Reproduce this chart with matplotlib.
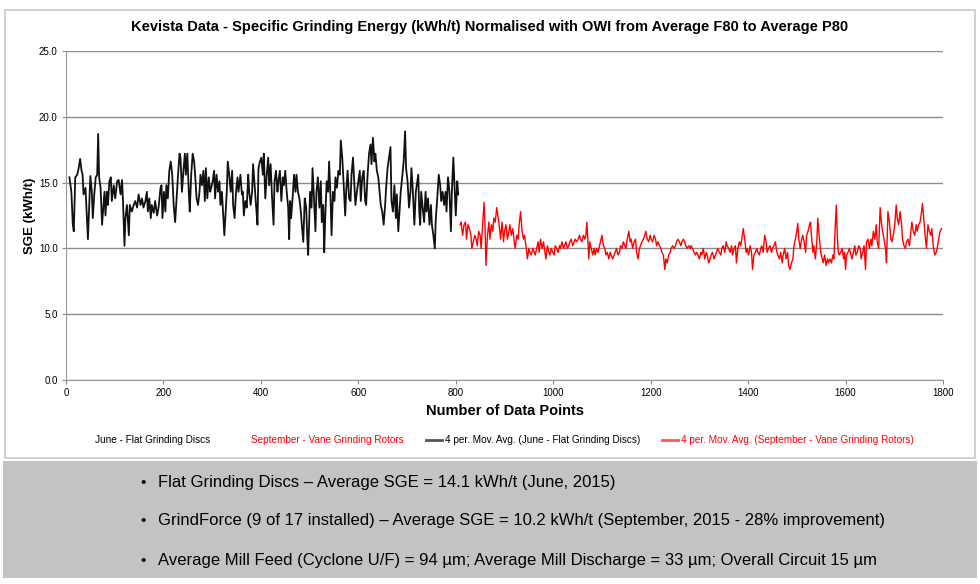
import matplotlib
matplotlib.use("Agg")
import matplotlib.pyplot as plt
from matplotlib.lines import Line2D
from matplotlib.patches import Rectangle

plt.rcParams['font.family'] = ['Liberation Sans', 'DejaVu Sans']

# ---- data (4 per. moving average lines) ----
# june: flat grinding discs, x = data point number
june_idx = [7, 11, 14, 16, 19, 23, 26, 29, 32, 34, 36, 40, 42, 45, 48, 50, 53, 55, 58, 61,
            64, 66, 68, 71, 74, 77, 79, 81, 84, 86, 89, 92, 94, 98, 101, 105, 108, 112, 115, 117,
            120, 122, 125, 129, 131, 135, 139, 142, 146, 149, 153, 156, 159, 163, 166, 168, 171, 174, 176, 180,
            183, 187, 190, 194, 196, 198, 201, 204, 206, 209, 212, 215, 218, 221, 224, 227, 230, 233, 235, 238,
            241, 244, 246, 249, 252, 254, 257, 260, 263, 265, 268, 271, 274, 276, 279, 282, 285, 287, 290, 293,
            296, 298, 301, 304, 306, 309, 312, 315, 317, 320, 323, 325, 327, 330, 332, 335, 338, 341, 343, 346,
            349, 352, 354, 358, 361,
            363, 365, 368, 371, 374, 376, 379, 382, 384, 387, 390, 393, 395, 398, 401, 404, 406, 409, 412, 415,
            417, 420, 423, 426, 428, 431, 434, 436, 439, 442, 445, 447, 450, 453, 456, 458, 460, 462, 465, 468,
            471, 473, 476, 479, 482, 484, 487, 490, 493, 495, 497, 499, 501, 504, 506, 509, 512, 514, 517, 520,
            523, 525, 528, 530, 532, 535, 538, 540, 543, 545, 548, 551, 553, 556, 559, 562, 564, 567, 570, 573,
            575, 578, 581, 584, 586, 589, 592, 594, 597, 600, 603, 605, 608, 611, 614, 616, 619, 622, 625, 627,
            630, 633, 635, 638, 641, 644, 646, 649, 652, 655, 657, 660, 663, 666, 668, 671, 674, 677, 679, 682,
            685, 687, 690, 693, 696, 698, 701, 704, 707, 709, 712, 715, 718, 720,
            723, 725, 727, 729, 732, 735, 738, 740, 743, 746, 749, 751, 754, 757, 759, 762, 765, 768, 770, 773,
            776, 779, 781, 784, 787, 790, 792, 795, 798, 800, 803, 805]
june_sge = [15.4, 14.3, 11.8, 11.3, 15.4, 15.6, 16.1, 16.8, 15.9, 15.6, 14.1, 14.6, 13.1, 10.7, 13.6, 15.5, 14.3, 12.3, 14.1, 15.4,
            15.6, 18.7, 15.4, 14.6, 11.8, 13.3, 14.3, 12.5, 14.3, 13.3, 15.1, 15.4, 13.6, 14.8, 13.8, 15.1, 15.2, 14.1, 15.2, 13.6,
            10.2, 12.3, 13.3, 11.0, 13.3, 12.8, 13.3, 13.6, 13.1, 14.1, 13.3, 13.8, 13.1, 13.6, 14.3, 12.8, 13.8, 12.3, 13.3, 12.7,
            13.6, 12.5, 13.1, 14.6, 14.8, 12.3, 14.3, 12.8, 14.8, 13.8, 15.9, 16.6, 15.6, 13.3, 12.0, 13.8, 15.6, 17.2, 16.9, 14.3,
            15.9, 17.2, 15.6, 17.2, 14.3, 12.8, 15.6, 17.2, 16.6, 15.6, 13.8, 13.3, 14.3, 15.6, 14.8, 15.9, 13.6, 16.1, 13.8, 15.4,
            14.3, 14.6, 15.1, 15.9, 13.8, 15.6, 14.3, 15.1, 13.3, 14.3, 12.3, 11.0, 12.3, 14.3, 16.6, 15.6, 14.3, 15.9, 13.3, 12.3,
            14.3, 15.4, 14.3, 15.6, 14.1,
            14.3, 12.5, 13.6, 13.1, 15.6, 14.3, 13.3, 14.3, 16.4, 14.8, 13.3, 11.8, 16.1, 16.6, 16.9, 15.6, 17.2, 13.8, 15.6, 16.9,
            14.8, 16.4, 13.8, 11.8, 15.1, 15.9, 14.3, 15.1, 15.9, 13.6, 15.4, 14.8, 15.9, 14.3, 13.1, 10.7, 13.6, 12.3, 13.8, 15.6,
            14.3, 15.6, 14.3, 13.8, 12.8, 11.8, 10.5, 13.8, 13.1, 11.0, 9.5, 11.8, 14.3, 13.1, 16.1, 13.8, 11.3, 14.3, 15.4, 13.1,
            15.1, 12.0, 13.3, 9.7, 12.3, 15.1, 14.3, 16.6, 13.8, 11.0, 14.3, 13.6, 15.4, 14.6, 15.9, 15.6, 18.2, 16.9, 14.8, 12.5,
            14.3, 15.9, 13.8, 13.6, 15.6, 16.9, 14.8, 13.3, 14.3, 15.1, 15.9, 13.6, 15.4, 15.9, 13.6, 13.3, 15.6, 17.2, 17.9, 16.4,
            18.4, 16.6, 17.2, 15.9, 15.4, 14.1, 13.3, 12.8, 11.8, 13.3, 14.6, 16.1, 16.9, 17.7, 13.6, 12.8, 14.8, 12.3, 14.1, 11.3,
            13.1, 14.3, 15.4, 16.6, 18.9, 16.1, 15.1, 13.1, 14.3, 16.1, 14.3, 11.8, 14.3, 14.8,
            15.6, 12.8, 11.8, 14.3, 13.1, 12.0, 14.3, 12.8, 13.8, 11.8, 13.3, 11.8, 11.0, 10.0, 12.3, 13.8, 15.6, 14.8, 13.6, 14.3,
            13.3, 14.3, 12.8, 15.4, 14.3, 11.3, 14.3, 16.9, 14.3, 12.5, 15.1, 14.1]

# september: vane grinding rotors
sept_idx = [809, 811, 814, 817, 820, 822, 825, 828, 831, 833, 836, 839, 842, 844, 847, 850, 852, 855, 858, 860,
            862, 865, 868, 870, 873, 876, 878, 881, 884, 887, 889, 892, 895, 898, 900, 903, 906, 909, 911, 914,
            917, 920, 922, 925, 928, 930, 933, 936, 939, 941, 944, 947, 950, 952, 955, 958, 961, 963, 966, 969,
            971, 974, 977, 980, 982, 985, 988, 991, 993, 996, 999, 1002, 1004, 1007, 1010, 1013, 1015, 1018, 1021, 1023,
            1026, 1029, 1032, 1034, 1037, 1040, 1043, 1045, 1048, 1051, 1054, 1056, 1059, 1062, 1065, 1067, 1069, 1071, 1073, 1075,
            1078, 1081, 1084,
            1086, 1089, 1092, 1095, 1097, 1100, 1103, 1106, 1108, 1111, 1114, 1117, 1119, 1122, 1125, 1127, 1130, 1133, 1136, 1138,
            1141, 1144, 1147, 1149, 1152, 1155, 1158, 1160, 1163, 1166, 1169, 1171, 1174, 1177, 1179, 1182, 1185, 1188, 1190, 1193,
            1196, 1199, 1201, 1204, 1207, 1210, 1212, 1215, 1218, 1221, 1223, 1226, 1229, 1231, 1234, 1237, 1240, 1242, 1245, 1248,
            1251, 1253, 1256, 1259, 1262, 1264, 1267, 1270, 1272, 1275, 1278, 1281, 1283, 1286, 1289, 1292, 1294, 1297, 1300, 1303,
            1305, 1308, 1311, 1314, 1316, 1319, 1322, 1324, 1327, 1330, 1333, 1335, 1338, 1341, 1344, 1346, 1349, 1352, 1355, 1357,
            1360, 1363, 1366, 1368, 1371, 1374, 1376, 1379, 1382, 1385, 1387, 1390, 1393, 1396, 1398, 1401, 1404, 1407, 1409, 1412,
            1415, 1418, 1420, 1423, 1426, 1428, 1431, 1434, 1437, 1439, 1442, 1445,
            1448, 1450, 1453, 1456, 1459, 1461, 1464, 1467, 1470, 1472, 1475, 1478, 1481, 1483, 1486, 1489, 1492, 1494, 1497, 1500,
            1502, 1504, 1507, 1509, 1512, 1515, 1518, 1520, 1523, 1526, 1528, 1530, 1533, 1535, 1538, 1541, 1543, 1545, 1547, 1549,
            1552, 1554, 1557, 1560, 1563, 1565, 1568, 1571, 1574, 1576, 1579, 1581, 1583, 1585, 1587, 1590, 1593, 1596, 1598, 1600,
            1602, 1605, 1608, 1611, 1613, 1616, 1619, 1621, 1624, 1627, 1630, 1632, 1635, 1638, 1641, 1643, 1646, 1649, 1652, 1654,
            1657, 1660, 1663, 1665, 1668, 1671, 1674, 1676, 1679, 1682, 1684, 1687, 1690, 1693, 1695, 1698, 1701, 1704, 1706, 1709,
            1712, 1715, 1717, 1720, 1723, 1725, 1728, 1731, 1734, 1736, 1739, 1742, 1745, 1747, 1750, 1753, 1756, 1758, 1761, 1764,
            1766, 1769, 1772, 1775, 1777, 1780, 1783, 1786, 1788, 1791, 1794, 1797]
sept_sge = [11.8, 12.0, 11.0, 11.8, 12.0, 10.7, 11.8, 11.5, 11.0, 10.0, 10.5, 11.0, 10.7, 10.2, 11.3, 11.0, 10.0, 11.8, 13.5, 11.8,
            8.7, 11.0, 12.0, 10.7, 11.8, 11.3, 12.3, 12.0, 13.1, 12.3, 11.8, 10.7, 12.0, 10.5, 11.3, 11.8, 10.7, 11.3, 11.8, 11.0,
            11.5, 10.5, 10.0, 11.0, 10.7, 11.8, 12.8, 11.3, 10.7, 11.0, 10.2, 9.2, 10.0, 9.7, 9.5, 10.0, 9.7, 9.5, 10.0, 10.5,
            9.7, 10.7, 10.0, 10.5, 10.0, 9.2, 10.2, 9.7, 9.5, 10.0, 9.7, 9.5, 10.2, 10.0, 9.7, 10.2, 10.0, 10.5, 10.0, 10.2,
            10.5, 10.0, 10.2, 10.5, 10.7, 10.2, 10.5, 10.7, 10.5, 10.7, 11.0, 10.7, 10.5, 11.0, 10.7, 11.0, 12.0, 10.7, 9.2, 10.5,
            10.0, 9.5, 10.0,
            9.5, 10.0, 9.7, 10.2, 10.5, 11.0, 10.2, 10.0, 9.5, 9.7, 9.2, 9.7, 9.5, 9.2, 9.5, 9.7, 10.0, 9.5, 9.7, 10.2,
            10.0, 10.5, 10.2, 10.0, 10.7, 11.3, 10.5, 10.7, 10.0, 10.5, 10.7, 9.7, 9.2, 10.0, 10.2, 10.5, 10.7, 11.0, 11.3, 10.7,
            10.5, 11.0, 10.7, 10.5, 11.0, 10.7, 10.2, 10.5, 10.2, 10.0, 9.7, 9.5, 8.4, 9.2, 8.9, 9.5, 9.7, 10.0, 10.2, 10.0,
            10.2, 10.5, 10.7, 10.5, 10.2, 10.5, 10.7, 10.5, 10.2, 10.0, 10.2, 10.0, 10.2, 10.0, 9.7, 9.5, 9.7, 9.5, 9.2, 9.7,
            9.5, 10.0, 9.2, 9.7, 9.5, 8.9, 9.2, 9.5, 9.7, 9.2, 9.5, 9.7, 10.0, 9.7, 9.5, 10.0, 10.2, 9.7, 10.5, 10.2,
            10.0, 9.7, 10.2, 9.5, 10.0, 10.2, 8.9, 10.0, 10.5, 10.2, 10.7, 11.5, 10.7, 9.7, 10.0, 9.5, 10.2, 9.7, 8.4, 9.5,
            9.7, 10.0, 9.7, 9.5, 10.0, 10.2, 9.7, 11.0, 10.5, 9.7, 10.0, 10.2,
            9.7, 10.0, 10.2, 10.5, 9.7, 9.5, 9.2, 9.7, 8.9, 9.5, 10.0, 9.2, 9.7, 8.7, 8.4, 8.9, 9.2, 10.2, 10.7, 11.3,
            11.9, 10.7, 10.0, 10.5, 11.0, 10.5, 9.7, 11.0, 11.3, 11.8, 12.0, 11.0, 9.7, 10.2, 9.2, 10.5, 12.3, 11.3, 10.5, 9.7,
            9.2, 8.9, 9.5, 8.7, 9.2, 8.9, 9.2, 8.9, 9.5, 9.2, 11.8, 13.3, 11.0, 9.7, 9.5, 9.7, 10.0, 9.2, 9.7, 8.4,
            9.5, 9.7, 10.0, 9.5, 9.2, 9.7, 10.2, 9.5, 9.7, 10.2, 10.0, 9.2, 9.7, 10.2, 8.4, 10.5, 10.7, 10.0, 10.7, 10.2,
            11.3, 10.7, 11.8, 10.5, 10.0, 13.1, 11.8, 11.3, 10.7, 10.0, 8.9, 12.8, 12.0, 10.7, 10.5, 11.0, 11.8, 13.3, 12.3, 11.8,
            12.8, 11.8, 10.7, 10.2, 10.0, 10.5, 10.7, 10.2, 11.3, 12.0, 11.3, 11.0, 11.8, 11.3, 11.8, 12.0, 12.8, 13.4, 12.0, 10.7,
            10.0, 11.8, 11.3, 11.0, 11.5, 10.2, 9.5, 9.7, 10.0, 10.7, 11.3, 11.5]

y_ticks = [0, 5, 10, 15, 20, 25]
x_ticks = [0, 200, 400, 600, 800, 1000, 1200, 1400, 1600, 1800]

bullets = [
    "Flat Grinding Discs \u2013 Average SGE = 14.1 kWh/t (June, 2015)",
    "GrindForce (9 of 17 installed) \u2013 Average SGE = 10.2 kWh/t (September, 2015 - 28% improvement)",
    "Average Mill Feed (Cyclone U/F) = 94 \u00b5m; Average Mill Discharge = 33 \u00b5m; Overall Circuit 15 \u00b5m",
]

W, H = 980, 584
fig = plt.figure(figsize=(W / 100, H / 100), dpi=100)

# chart frame + grey text panel underneath (kept behind the axes)
fig.add_artist(Rectangle((5 / W, 1 - 458 / H), 970 / W, 448 / H, transform=fig.transFigure,
                         facecolor='white', edgecolor='#c8c8c8', lw=1.2, zorder=-2))
fig.add_artist(Rectangle((3 / W, 1 - 578 / H), 974 / W, 117 / H, transform=fig.transFigure,
                         facecolor='#c3c3c3', edgecolor='none', zorder=-2))

ax = fig.add_axes([66 / W, 1 - 380 / H, (943 - 66) / W, (380 - 51) / H])
ax.patch.set_alpha(0)
ax.plot(june_idx, june_sge, color='#111111', lw=1.3)
ax.plot(sept_idx, sept_sge, color='#ff0000', lw=1.0)

ax.set_xlim(0, 1800)
ax.set_ylim(0, 25)
ax.set_xticks(x_ticks)
ax.set_yticks(y_ticks)
ax.set_yticklabels([f"{v:.1f}" for v in y_ticks])
ax.tick_params(labelsize=7, length=3, color='#888888', pad=3)
ax.grid(axis='y', color='#8c8c8c', lw=1)
ax.set_axisbelow(True)
for s in ['top', 'right']:
    ax.spines[s].set_visible(False)
for s in ['left', 'bottom']:
    ax.spines[s].set_color('#999999')

ax.set_xlabel("Number of Data Points", fontsize=10.5, fontweight='bold', labelpad=4)
ax.set_ylabel("SGE (kWh/t)", fontsize=9.5, fontweight='bold', va='center')
ax.yaxis.set_label_coords(-0.041, 0.5)

fig.text(490 / W, 1 - 27 / H,
         "Kevista Data - Specific Grinding Energy (kWh/t) Normalised with OWI from Average F80 to Average P80",
         ha='center', va='center', fontsize=10.5, fontweight='bold')

# legend: raw series have no visible line, moving averages do
handles = [Line2D([], [], color='none'), Line2D([], [], color='none'),
           Line2D([], [], color='#555555', lw=2), Line2D([], [], color='#ff5555', lw=2)]
labels = ["June - Flat Grinding Discs", "September - Vane Grinding Rotors",
          "4 per. Mov. Avg. (June - Flat Grinding Discs)",
          "4 per. Mov. Avg. (September - Vane Grinding Rotors)"]
leg = fig.legend(handles, labels, loc='center', bbox_to_anchor=(495 / W, 1 - 440 / H), ncol=4,
                 frameon=False, fontsize=7.2, handlelength=1.6, handletextpad=0.3, columnspacing=2.2,
                 labelcolor=['black', 'red', 'black', 'red'])

for i, txt in enumerate(bullets):
    y = 1 - [483, 521, 561][i] / H
    fig.text(140 / W, y, "\u2022", ha='left', va='center', fontsize=11)
    fig.text(158 / W, y, txt, ha='left', va='center', fontsize=12)

fig.savefig("out.png", dpi=100)
